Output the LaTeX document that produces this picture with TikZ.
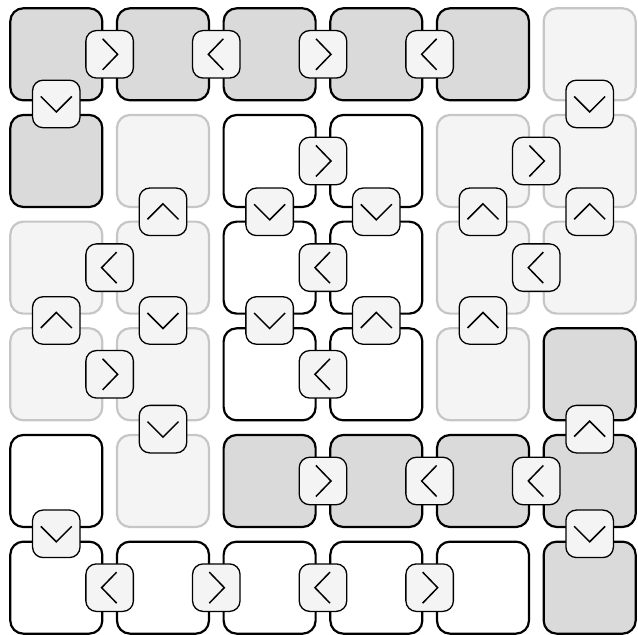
\documentclass[tikz,border=0pt]{standalone}
\usetikzlibrary{calc}
\definecolor{celldark}{HTML}{DADADA}
\definecolor{lightfill}{HTML}{F4F4F4}
\definecolor{lightborder}{HTML}{C6C6C6}
\definecolor{badgefill}{HTML}{F4F4F4}
\tikzset{
  cell/.style={minimum size=92pt, rounded corners=13pt, line width=2.2pt, inner sep=0pt},
  dk/.style={cell, draw=black, fill=celldark},
  lt/.style={cell, draw=lightborder, fill=lightfill},
  wh/.style={cell, draw=black, fill=white},
  badge/.style={minimum size=47.5pt, rounded corners=10.5pt, line width=1.3pt, draw=black, fill=badgefill, inner sep=0pt},
  chev/.style={sharp corners, line width=1.5pt, draw=black},
  R/.style={path picture={\draw[chev] ([shift={(-7pt,15.5pt)}]path picture bounding box.center) -- ([shift={(8pt,0pt)}]path picture bounding box.center) -- ([shift={(-7pt,-15.5pt)}]path picture bounding box.center);}},
  L/.style={path picture={\draw[chev] ([shift={(7pt,15.5pt)}]path picture bounding box.center) -- ([shift={(-8pt,0pt)}]path picture bounding box.center) -- ([shift={(7pt,-15.5pt)}]path picture bounding box.center);}},
  D/.style={path picture={\draw[chev] ([shift={(-15.5pt,7.5pt)}]path picture bounding box.center) -- ([shift={(0pt,-8pt)}]path picture bounding box.center) -- ([shift={(15.5pt,7.5pt)}]path picture bounding box.center);}},
  U/.style={path picture={\draw[chev] ([shift={(-15.5pt,-7.5pt)}]path picture bounding box.center) -- ([shift={(0pt,8pt)}]path picture bounding box.center) -- ([shift={(15.5pt,-7.5pt)}]path picture bounding box.center);}}
}
\begin{document}
\begin{tikzpicture}[x=1pt,y=-1pt]
\useasboundingbox (0,0) rectangle (638,635);
% cells
\foreach \r/\c/\s in {
 1/1/dk,1/2/dk,1/3/dk,1/4/dk,1/5/dk,1/6/lt,
 2/1/dk,2/2/lt,2/3/wh,2/4/wh,2/5/lt,2/6/lt,
 3/1/lt,3/2/lt,3/3/wh,3/4/wh,3/5/lt,3/6/lt,
 4/1/lt,4/2/lt,4/3/wh,4/4/wh,4/5/lt,4/6/dk,
 5/1/wh,5/2/lt,5/3/dk,5/4/dk,5/5/dk,5/6/dk,
 6/1/wh,6/2/wh,6/3/wh,6/4/wh,6/5/wh,6/6/dk}
 \node[\s] (c\r\c) at ({56.3+(\c-1)*106.67},{54.3+(\r-1)*106.67}) {};
% horizontal badges between (r,c) and (r,c+1)
\foreach \r/\c/\d in {
 1/1/R,1/2/L,1/3/R,1/4/L,
 2/3/R,2/5/R,
 3/1/L,3/3/L,3/5/L,
 4/1/R,4/3/L,
 5/3/R,5/4/L,5/5/L,
 6/1/L,6/2/R,6/3/L,6/4/R}
{
 \pgfmathtruncatemacro\cn{\c+1}
 \node[badge,\d] (h\r\c) at ($(c\r\c)!0.5!(c\r\cn)$) {};
}
% vertical badges between (r,c) and (r+1,c)
\foreach \r/\c/\d/\s in {
 1/1/D/3.7,1/6/D/3.7,
 2/2/U/2.5,2/3/D/2.5,2/4/D/2.5,2/5/U/2.5,2/6/U/2.5,
 3/1/U/0.5,3/2/D/0.5,3/3/D/0.5,3/4/U/0.5,3/5/U/0.5,
 4/2/D/-1.5,4/6/U/-1.5,
 5/1/D/0.5,5/6/D/0.5}
{
 \pgfmathtruncatemacro\rn{\r+1}
 \node[badge,\d,yshift=\s pt] (v\r\c) at ($(c\r\c)!0.5!(c\rn\c)$) {};
}
\end{tikzpicture}
\end{document}
